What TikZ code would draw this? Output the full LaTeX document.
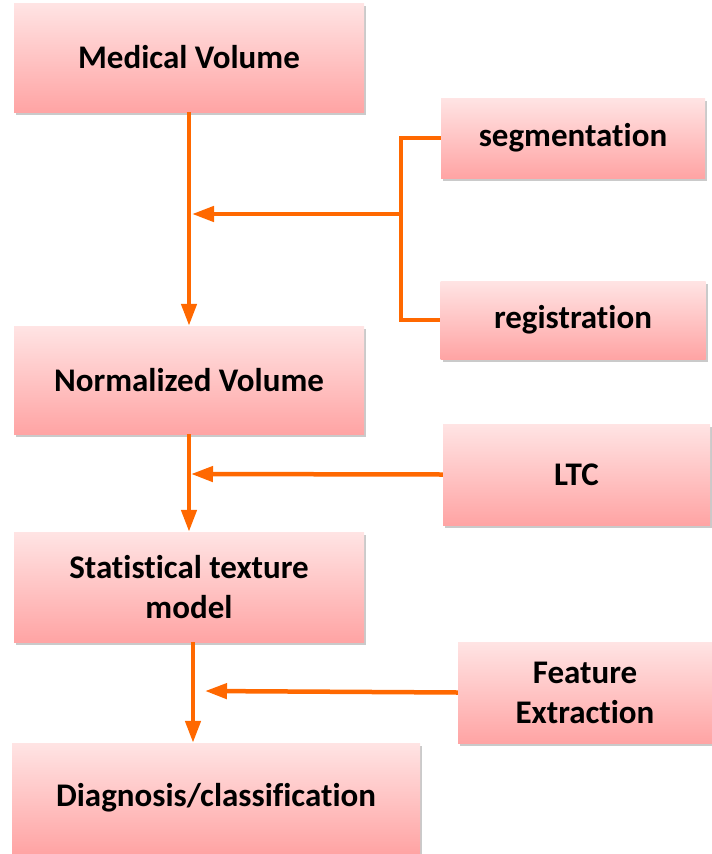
\documentclass[tikz,border=0pt]{standalone}
\usepackage{fontspec}
\setmainfont[Ligatures=NoCommon]{Carlito}
\usetikzlibrary{arrows.meta,shadows}
\definecolor{conn}{RGB}{255,104,0}
\definecolor{boxtop}{RGB}{255,228,228}
\definecolor{boxbot}{RGB}{255,164,164}
\tikzset{
  stepbox/.style={rectangle, draw=none, top color=boxtop, bottom color=boxbot,
    drop shadow={shadow xshift=2pt, shadow yshift=-3pt, opacity=0.35, fill=black!60},
    align=center, font=\fontsize{33}{40}\selectfont\bfseries, text=black, inner sep=0pt},
  link/.style={draw=conn, line width=4.5pt},
  arr/.style={link, -{Triangle[length=22pt,width=15pt]}},
}
\begin{document}
\begin{tikzpicture}[x=1pt,y=-1pt]
\useasboundingbox (0,0) rectangle (712,854);
\node[stepbox, minimum width=350pt, minimum height=109pt] (med) at (189,57.5) {Medical Volume};
\node[stepbox, minimum width=264pt, minimum height=80pt] (seg) at (573,138) {segmentation};
\node[stepbox, minimum width=265pt, minimum height=78pt] (reg) at (573,320) {registration};
\node[stepbox, minimum width=350pt, minimum height=108pt] (norm) at (189,380) {Normalized Volume};
\node[stepbox, minimum width=267pt, minimum height=101pt] (ltc) at (576.5,474.5) {LTC};
\node[stepbox, minimum width=350pt, minimum height=110pt] (stat) at (189,587) {Statistical texture\\model};
\node[stepbox, minimum width=254pt, minimum height=101pt] (feat) at (585,692.5) {Feature\\Extraction};
\node[stepbox, minimum width=408pt, minimum height=110pt] (diag) at (216,798) {Diagnosis/classification};
\coordinate (br) at (401,214);
\coordinate (j1) at (192,214);
\coordinate (j2) at (191,474);
\coordinate (j3) at (205,691);
\draw[arr] (med.south) -- (norm.north);
\draw[link] (seg.west) -- ++(-40,0) |- (reg.west);
\draw[arr] (br) -- (j1);
\draw[arr] (norm.south) -- (stat.north);
\draw[arr] (ltc.west) -- (j2);
\draw[arr] ([xshift=4pt]stat.south) -- ([xshift=4pt]stat.south |- diag.north);
\draw[arr] (feat.west) -- (j3);
\end{tikzpicture}
\end{document}
